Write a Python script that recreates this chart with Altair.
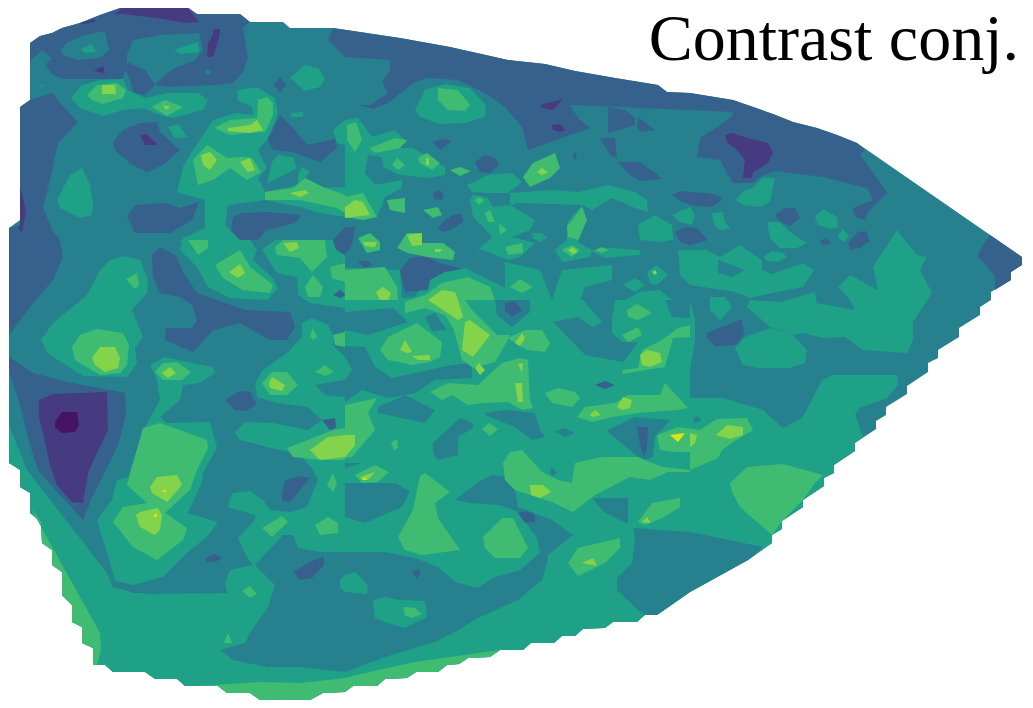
import altair as alt

TITLE = "Contrast conj."
COLOUR = {"0": "#471365", "1": "#463a80", "2": "#35618c", "3": "#26808e",
          "4": "#1fa187", "5": "#40bc72", "6": "#84d44b", "7": "#dde318"}

# Contour regions: flat x,y outlines in source units, painted in order.
MASK = [[30,43,40,36,52,33,62,28,80,23,100,15,123,7,187,7,197,14,240,14,250,22,283,22,290,28,333,28,400,38,450,47,508,60,545,64,575,71,615,78,658,85,667,92,690,93,733,100,773,114,793,122,817,128,837,135,857,143,1022,257,1022,265,1011,272,1011,280,991,292,991,300,980,307,980,315,959,328,959,337,938,350,938,358,928,363,928,372,907,386,907,394,886,407,886,415,876,421,876,429,855,443,855,451,834,465,834,473,824,478,824,486,803,500,803,507,782,521,782,529,772,535,772,543,748,560,690,592,657,615,645,615,637,622,613,622,605,628,583,629,575,636,562,636,554,643,531,643,523,650,500,650,490,657,468,658,459,664,447,665,438,672,416,672,407,678,385,679,377,686,353,686,345,692,323,693,310,700,260,700,250,693,227,693,218,686,185,686,177,679,155,679,145,672,113,672,105,665,93,665,93,648,82,643,82,627,72,622,72,605,62,595,62,572,52,565,52,550,42,543,41,522,30,513,30,493,20,487,20,470,9,463,9,228,20,220,20,107,30,100]]

L2_A = [
[30,43,40,36,52,33,62,28,80,23,100,15,123,7,187,7,197,14,240,14,250,22,243,27,245,40,248,58,243,72,233,83,215,85,167,87,155,85,145,95,133,93,130,80,125,69,123,79,63,79,53,75,45,65,52,58,42,50,32,60,30,62],
[333,28,400,38,450,47,508,60,545,64,575,71,615,78,658,85,667,92,690,93,733,100,773,114,793,122,817,128,837,135,857,143,865,150,860,155,875,175,887,193,867,213,865,220,855,217,853,208,873,200,867,188,823,177,775,171,760,177,753,183,733,183,727,173,720,160,697,157,700,138,720,125,733,115,732,112,690,110,640,108,620,107,570,105,578,118,590,128,528,150,522,127,505,107,485,93,458,80,428,78,415,82,388,103,373,109,358,105,370,105,388,93,382,82,390,70,390,60,345,57,328,40],
[20,107,30,100,53,93,60,103,78,122,58,143,50,180,43,207,52,230,60,240,63,257,53,280,33,303,9,335,9,228,20,225],
[9,357,33,373,67,382,125,393,126,415,118,445,106,470,92,497,83,520,60,495,38,470,30,445,20,405,9,372],
[990,235,1022,257,1022,265,1011,272,1011,280,995,290,995,277,985,263,977,257,983,245],
[113,142,123,130,140,123,157,122,160,132,180,150,163,165,147,172,132,165,115,150],
[127,217,135,205,165,203,180,208,199,202,192,220,170,233,135,233],
[268,140,280,115,293,128,307,145,335,139,337,148,320,162,293,152,273,150],
[230,240,233,217,242,213,268,212,302,215,295,223,267,230,258,240],
[152,255,160,247,175,255,185,275,197,293,245,310,290,312,295,327,287,340,270,340,240,323,213,330,193,352,165,340,166,328,192,328,197,320,192,305,180,297,160,293,153,277],
]
L3_A = [
[60,50,68,42,85,35,105,31,109,50,100,58,78,60,65,56],
[127,55,133,40,160,35,199,33,203,50,195,60,175,68,165,75,155,85,145,70,127,62],
[204,72,207,69,212,72,208,75],
]
L1 = [
[115,14,123,7,187,7,199,22,187,23,157,18,123,14],
[80,23,95,19,95,22,82,24],
[207,57,208,43,213,35,213,29,220,29,219,38,213,57],
[94,71,103,66,105,73],
[20,187,26,210,22,233,18,228,20,225],
[39,400,53,394,107,392,108,430,97,453,88,473,83,503,72,502,57,485,50,465,43,433,39,417],
[140,135,146,134,158,145,145,145],
[725,135,732,133,747,138,768,143,773,152,768,163,753,172,752,178,743,178,745,160,737,150,727,142],
[540,105,563,99,553,110,542,108],
[552,125,560,124,565,130,560,132,553,130],
]
L0 = [[55,422,62,412,77,412,79,425,75,432,62,433,55,427]]
L4 = [
[41,340,53,323,87,295,100,270,110,260,125,256,140,260,148,280,147,293,132,310,143,337,135,348,137,363,127,377,83,376,47,353],
[150,365,165,357,187,362,213,367,215,373,200,383,183,385,180,400,160,417,167,423,210,422,213,433,217,448,203,473,202,483,188,513,218,522,207,537,187,553,163,577,143,585,112,585,115,580,107,553,97,520,112,500,117,480,128,477,143,430,160,400,157,380],
[81,49,91,44,97,52,85,53],[174,50,198,42,199,52,180,54],[40,85,43,85,43,88],
[290,78,305,65,318,68,325,78,320,87,305,91],
[57,200,70,175,82,168,90,185,93,205,92,215,80,218,60,208],
[71,98,82,85,100,80,123,79,128,90,145,98,167,93,198,93,208,100,203,110,173,118,160,115,143,108,123,110,103,116,80,108],
[168,127,178,124,187,137,175,138],[290,113,303,112,303,117,292,117],
[177,192,183,167,195,147,213,120,235,113,253,115,252,107,237,100,238,90,257,87,275,98,278,113,272,128,267,140,258,150,267,168,258,178,265,192,265,200,228,205,225,225,240,240,250,240,257,250,253,260,272,277,278,288,267,300,230,298,208,287,197,267,180,250,183,238,205,228,205,200],
[272,162,278,155,293,157,297,168,280,177,267,183],
[298,175,302,167,310,172,303,180,320,188,345,187,345,217,320,213,300,207,265,200,265,192,298,185],
[333,130,345,120,345,145,337,143],
[262,250,277,273,297,277,298,295,310,303,345,308,345,240,275,240],
[415,110,425,90,445,84,470,88,486,105,485,117,465,123,440,124,420,117],
[345,120,358,118,372,137,395,130,407,142,398,148,413,148,445,167,445,175,430,178,400,175,383,167,382,157,368,155,365,173,375,185,402,180,402,188,385,197,377,217,365,220,345,217],
[467,185,488,175,512,173,522,182,508,193,488,193,472,192],
[470,200,473,195,487,197,493,207,510,205,535,220,530,230,512,237,535,243,520,257,508,260,483,250,478,250,492,237,483,227,473,217],
[510,193,552,190,578,192,608,185,635,192,647,200,648,212,635,208,612,198,592,210,583,205,518,203,510,205],
[638,225,655,215,672,225,673,240,660,242,640,240],
[672,215,690,207,695,215,692,225,680,222],
[567,223,582,205,587,220,578,242,592,250,590,257,575,260,562,262,555,250,567,240],
[532,233,542,233,547,238,540,242,533,238],
[590,250,610,248,640,250,640,255,605,258],
[678,250,690,250,690,285,680,275],
[647,272,657,265,668,275,657,285,650,283],
[623,285,635,278,645,285,635,292],
[735,200,745,190,753,188,762,178,775,178,770,202,760,207,743,205],
[712,213,723,212,725,222,730,229,720,230,714,225],
[767,222,780,222,790,232,807,243,797,248,780,248,770,238],
[815,217,823,209,837,217,838,227,830,229,818,225],
[837,237,843,229,849,236,844,242],
[763,257,772,251,783,253,787,257,777,262,767,261],
[690,250,707,250,720,257,740,245,762,260,762,270,772,274,803,263,814,270,803,287,772,293,750,298,735,292,690,285],
[710,297,725,297,732,307,720,320,710,310],
[838,287,850,275,872,287,878,290,873,267,897,230,917,255,927,257,920,270,932,293,913,322,913,340,907,353,863,350,845,337,823,338,803,333,793,335,770,327,747,307,750,300,780,302,815,292,817,303,855,310,850,300],
[735,348,745,337,770,328,793,335,807,350,805,363,790,368,757,368,743,365],
[255,383,263,370,287,353,302,337,302,323,312,318,328,325,333,335,333,345,350,347,350,437,345,428,322,420,307,407,277,403,257,397],
[235,432,245,422,273,423,308,430,322,420,345,428,350,480,313,470,300,455,270,448,240,440],
[180,240,217,240,250,240,230,298,197,267],
[345,268,400,270,402,298,415,297,430,275,465,268,495,283,505,262,540,270,552,300,562,270,612,265,612,280,585,287,580,300,625,300,640,292,660,290,672,300,690,300,695,320,695,340,690,370,690,398,723,398,763,410,783,428,803,417,822,380,833,375,897,375,898,385,887,398,860,408,855,415,863,437,855,443,855,451,834,465,834,473,824,478,824,486,803,500,803,507,782,521,782,529,772,535,772,543,748,560,690,592,657,615,645,615,637,622,613,622,605,628,583,629,575,636,562,636,554,643,531,643,523,650,500,650,490,657,468,658,459,664,447,665,438,672,416,672,407,678,385,679,377,686,353,686,345,692,323,693,310,700,260,700,250,693,227,693,218,686,185,686,177,679,155,679,145,672,113,672,105,665,93,665,93,648,82,643,82,627,72,622,72,605,62,595,62,572,52,565,52,550,42,543,41,522,30,513,30,493,20,487,20,470,9,463,9,425,27,470,107,573,112,585,133,593,227,593,225,583,230,470,345,470],
]
L3_B = [
[345,312,393,308,408,322,368,335,345,330],
[425,317,435,313,447,330,432,331],
[333,345,365,347,375,367,392,378,452,365,472,363,472,378,435,380,415,393,388,398,362,390,345,402,345,380,352,370,345,357],
[378,407,405,395,435,410,425,423,378,413],
[315,385,345,380,345,397,325,395],
[553,322,578,317,593,327,602,322,583,300,615,300,612,320,612,333,622,342,638,342,623,362,585,355],
[485,413,505,410,535,413,540,430,545,437,532,440,515,427,485,415],
[555,432,565,428,575,433,565,437],
[608,430,635,417,670,420,655,437,653,457,645,460,638,457,608,432],
[433,443,460,418,473,423,473,428,458,437,458,455,438,460,433,453],
[345,463,362,463,345,468],
[550,472,552,467,557,473,552,476],
[345,483,395,483,410,492,402,507,365,523,345,517],
[495,300,530,300,530,312,512,327,497,315],
[490,266,505,264,505,288,495,283],
[665,300,690,300,690,318,672,317],
[693,418,697,416,702,420,695,423],
[592,498,628,498,628,524,605,513],
[718,260,745,270,732,277,718,273],
[633,528,690,532,763,547,748,560,690,592,657,615,645,615,638,610,617,590,617,578,632,563,635,537],
[220,650,233,660,267,667,300,667,345,672,385,657,435,642,455,632,478,618,518,600,542,580,547,563,548,555,573,535,552,520,537,538,540,553,520,570,492,578,478,588,455,582,438,567,415,558,385,552,345,552,320,552,298,548,293,535,283,535,255,565,275,585,268,607,250,633,245,643],
[455,500,478,482,492,475,508,477,515,490,518,507,552,520,537,538,518,512,500,505,470,503],
[208,470,188,513,218,522,207,537,187,553,163,577,133,585,113,580,112,587,147,594,227,593,225,583,230,570,253,565,247,557,238,538,255,520,255,515,227,507,233,493,250,491,263,500,270,510,290,512,307,507,318,480,313,470],
[235,440,240,440,270,448,300,455,313,470,208,470,217,448],
]
L4_B = [
[373,600,385,597,400,600,425,601,427,617,405,628,385,622,375,618],
[340,580,345,575,355,572,368,585,367,594,345,592,340,587],
[485,347,492,347,508,362,490,366,485,360],
]
L2_B = [
[274,85,280,77,286,85,280,93],[333,240,345,227,355,227,352,245,345,255,336,250],
[608,107,625,110,635,118,635,125,620,130,608,133,608,122],[638,117,655,130,640,132,637,128],
[600,138,615,138,617,158,610,155],[618,162,640,162,655,173,662,179,640,181,630,175],
[573,157,575,151,577,157,575,160],[475,162,485,155,495,158,499,165,490,173,480,172],
[432,142,442,139,452,141,440,150],[433,193,440,190,444,195,442,200,435,199],
[438,227,452,215,462,214,463,222,450,230,442,232],[358,262,366,260,372,264,365,268],
[400,270,410,258,425,256,440,263,462,269,445,272,430,280,428,290,405,292],
[672,195,680,191,705,193,718,195,722,200,712,207,695,206,680,201],
[775,215,785,208,795,208,800,218,790,226,780,222],[848,243,858,232,866,231,870,241,860,248,850,250],
[820,241,825,238,832,243,822,245],[675,232,685,227,697,228,708,240,690,245,680,242],
[707,333,740,320,742,320,744,335,735,345,715,346,707,338],
[225,400,240,391,250,392,257,405,245,411,235,410],[322,420,335,418,336,428,330,430],
[333,295,340,290,346,295,340,298],[282,495,285,480,300,476,310,478,300,490,290,502,282,501],
[293,572,310,562,324,557,324,565,312,578,300,580],[205,558,215,554,222,558,215,562,207,562],
[505,303,515,301,522,310,512,317,505,310],[637,427,648,427,647,447,644,457,640,445],
[518,513,527,511,535,515,535,522,525,523],[595,385,605,381,615,385,605,389],[412,571,420,570,420,575,416,578],
]
L5 = [
[87,95,97,85,117,83,126,90,123,98,103,104,92,100],[152,107,165,100,183,107,167,116],
[214,128,230,120,257,118,258,100,267,97,273,103,273,115,265,132,247,133,230,135],
[193,160,207,145,227,158,242,157,252,158,261,172,247,180,230,168,213,180,198,185],
[265,192,293,188,305,178,323,187,345,195,345,213,337,208,300,200,265,200],
[347,125,356,122,362,140,355,152,347,140],[370,148,395,138,407,140,400,148,375,153],
[392,165,397,158,405,165,398,170],[418,158,427,153,440,163,432,170,420,163],
[450,170,460,167,471,171,460,176],[523,177,533,163,555,153,560,168,550,178,530,187],
[438,88,458,90,470,105,465,111,448,110,438,100],
[345,197,363,193,377,217,363,220,345,217],[387,200,405,198,405,213,390,210],
[423,210,438,207,442,215,433,218],[475,200,479,197,484,200,479,205],[485,213,490,210,495,222,488,222],
[499,223,507,230,500,235],[358,238,370,233,380,242,380,250,367,253],
[397,248,407,233,422,233,422,243,443,243,455,252,453,260,427,257,408,253],
[505,247,522,243,523,253,508,255],[567,227,582,207,587,220,578,240,568,237],
[562,250,572,245,580,250,572,257],[595,250,602,247,609,250,602,253],
[510,287,520,279,533,287,522,293],[345,270,385,267,397,287,398,300,345,300],
[405,302,425,295,442,283,468,277,490,287,495,300,465,300,472,310,497,335,510,335,505,345,495,362,473,368,462,360,454,330,445,315,425,308,405,313],
[508,338,525,330,542,330,550,343,545,352,528,350,518,345],
[430,392,448,383,478,385,502,363,520,358,528,360,530,400,533,408,522,410,508,402,482,403,468,405,452,395,442,400],
[380,350,388,337,417,323,442,342,440,357,430,362,412,365,388,360],
[545,393,558,388,575,392,580,398,572,407,552,403],
[577,417,585,407,615,403,628,395,660,395,665,383,688,408,678,410,638,413,612,417,592,422],
[622,370,638,368,642,350,662,340,678,328,690,325,690,337,673,338,665,367,645,370,623,374],
[622,335,638,327,642,335,628,342],[627,310,637,304,652,313,638,320,628,317],
[657,435,678,427,700,430,717,419,747,418,753,430,733,442,722,450,718,458,690,470,690,452,675,452,660,450],
[503,463,510,452,522,450,542,472,558,480,572,483,575,463,602,457,638,457,662,467,690,470,690,472,668,472,650,480,630,477,595,495,573,512,552,502,515,490,505,480],
[730,483,747,467,783,464,823,475,815,483,803,500,782,521,772,535,740,507,732,492],
[638,522,652,503,680,498,680,507,662,518,645,525],
[568,563,578,548,620,538,620,548,605,563,578,576],
[420,476,425,473,450,492,435,503,438,518,460,550,422,555,405,550,398,537,413,510],
[483,537,502,518,513,518,528,548,520,558,495,558,485,548],
[72,347,80,335,97,329,123,333,129,345,127,365,120,373,100,375,75,360],
[126,279,137,273,139,285,135,289],[215,265,240,250,250,267,273,285,270,293,243,290,223,278],
[188,240,208,240,208,248,198,255],[275,247,283,240,325,240,327,257,312,272,300,258,277,255],
[305,287,313,275,323,287,320,297,308,297],[330,267,345,263,345,282,332,278],
[262,383,272,372,287,372,298,385,287,395,270,395],[315,372,325,365,334,372,325,376],
[333,335,345,332,345,347,335,345],[310,337,313,328,317,337,313,340],
[143,428,160,423,207,440,208,448,197,470,190,490,165,513,187,528,183,540,157,560,133,547,113,522,123,507,147,503,127,485],
[155,372,163,363,177,362,191,372,182,380,163,380],
[287,448,333,430,345,428,345,460,320,460,293,457],
[345,405,377,398,368,413,375,430,352,457,345,458],
[355,475,375,465,389,472,378,482,362,483],[391,443,397,439,398,448,394,450],
[482,429,489,423,498,429,490,436],[315,525,328,517,338,523,338,533,320,535],
[262,528,282,516,288,522,272,537],[327,485,333,473,337,483,333,492],
[242,591,250,586,257,594,250,598],[224,643,228,633,232,643],[403,607,415,608,422,614,412,618,405,615],
[30,507,41,522,42,543,52,550,52,565,62,572,62,595,72,605,72,622,82,627,82,643,93,648,93,665,97,665,101,650,100,633],
[200,686,218,686,227,693,250,693,260,700,310,700,323,693,345,692,353,686,377,686,385,679,407,678,416,672,438,672,447,665,459,664,468,658,490,657,500,650,415,662,378,670,345,678,300,683,260,682],
]
L6 = [
[102,85,115,85,116,94,102,94],[163,105,170,107,166,110],[228,128,250,125,257,120,263,130,250,133,228,131],
[201,155,210,152,217,160,210,170,203,165],[240,162,250,158,255,170,248,172],[290,193,305,190,309,193,300,197],
[345,207,355,200,363,202,370,215,345,218],[426,158,429,158,429,165,426,165],[363,242,377,242,375,247,365,246],
[407,235,422,233,422,245,412,246],[435,249,442,249,440,252,435,252],[537,172,542,168,548,172,542,175],
[568,250,573,247,578,252,573,254],[652,272,655,270,657,273,655,275],[376,292,383,287,391,293,388,300,380,300],
[428,300,442,290,455,292,458,300,463,317,458,320],[465,322,470,320,490,335,473,357,462,350],
[515,343,522,333,525,338,520,346],[400,350,405,340,412,352,407,353],[412,356,430,355,430,360,418,360],
[518,364,523,363,522,373],[515,383,522,383,523,402,518,402],[475,368,479,363,485,370,480,375],
[530,485,543,485,551,492,540,498,531,495],[617,407,623,397,632,400,630,408,622,410],[590,415,595,410,601,415,593,417],
[640,355,647,350,660,353,662,362,650,367,642,365],[310,450,328,437,345,435,355,435,355,445,345,457,320,460],
[360,477,375,472,368,480,362,480],[92,358,100,347,115,347,120,358,118,368,105,372,95,365],
[162,373,170,367,176,373,168,378],[229,272,240,264,245,273,238,278],[283,243,297,242,299,248,290,252],
[269,383,272,377,285,385,282,391,270,388],[150,487,157,477,177,475,182,485,167,502,152,493],
[136,515,140,512,158,508,162,515,160,530,155,535,140,527],[716,435,727,425,743,427,743,435,730,439],
[690,433,697,435,695,443,690,447],[582,563,593,558,597,566],[642,522,647,517,651,523],
]
L7 = [[670,435,685,433,678,442],[363,478,366,478,366,480,363,480],[163,490,166,490,166,492,163,492],[154,514,157,514,157,517,154,517]]

PAINT = [("3", MASK), ("2", L2_A), ("3", L3_A), ("1", L1), ("0", L0), ("4", L4), ("3", L3_B),
         ("4", L4_B), ("2", L2_B), ("5", L5), ("6", L6), ("7", L7)]

features = []
for level, polys in PAINT:
    for flat in polys:
        ring = [[flat[i], flat[i + 1]] for i in range(0, len(flat), 2)]
        ring.append(ring[0])
        features.append({"type": "Feature", "properties": {"level": level},
                         "geometry": {"type": "Polygon", "coordinates": [ring]}})

levels = list(COLOUR)
regions = alt.Chart(alt.InlineData(values=features, format=alt.DataFormat(type="json"))).mark_geoshape(
    strokeWidth=0
).encode(
    color=alt.Color("properties.level:N", scale=alt.Scale(domain=levels, range=[COLOUR[k] for k in levels]), legend=None)
).project(type="identity", scale=1, translate=[-8, -8])

label = alt.Chart(alt.InlineData(values=[{"t": TITLE}])).mark_text(
    font="Liberation Serif", fontSize=66, align="right", baseline="alphabetic", color="black"
).encode(x=alt.value(1011), y=alt.value(52), text="t:N")

chart = (regions + label).properties(
    width=1017, height=692, padding=0, autosize=alt.AutoSizeParams(type="none")
).configure_view(stroke=None)
chart.save("out.html", embed_options={"renderer": "svg", "actions": False})
